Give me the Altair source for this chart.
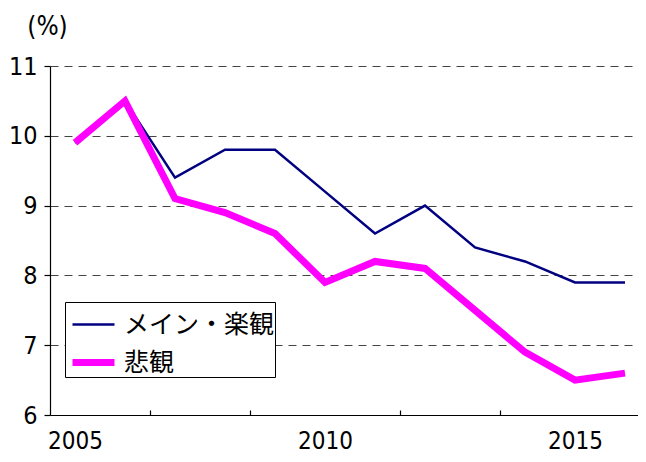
import altair as alt
import pandas as pd

years = list(range(2005, 2017))
main_vals = [9.9, 10.5, 9.4, 9.8, 9.8, 9.2, 8.6, 9.0, 8.4, 8.2, 7.9, 7.9]
pess_vals = [9.9, 10.5, 9.1, 8.9, 8.6, 7.9, 8.2, 8.1, 7.5, 6.9, 6.5, 6.6]
series_names = ["メイン・楽観", "悲観"]
series_colors = ["#000080", "#FF00FF"]
series_widths = [2.5, 7]
label_years = [2005, 2010, 2015]
boundary_ticks = [y + 0.5 for y in range(2005, 2016)]

rows = []
for y, v in zip(years, main_vals):
    rows.append({"year": y, "value": v, "series": series_names[0]})
for y, v in zip(years, pess_vals):
    rows.append({"year": y, "value": v, "series": series_names[1]})
df = pd.DataFrame(rows)

num_font = "Liberation Sans Narrow, DejaVu Sans Condensed, Liberation Sans, sans-serif"
jp_font = "Noto Sans CJK JP"

xscale = alt.Scale(domain=[2004.5, 2016.26], nice=False, zero=False)
yscale = alt.Scale(domain=[6, 11], nice=False, zero=False)

lines = alt.Chart(df).mark_line(strokeCap="butt", strokeJoin="miter").encode(
    x=alt.X("year:Q", scale=xscale,
            axis=alt.Axis(values=label_years + boundary_ticks, title=None,
                          tickSize=alt.ExprRef("-5"), tickWidth=1.2,
                          tickColor={"condition": {"test": "datum.value % 1 === 0", "value": "transparent"},
                                     "value": "black"},
                          labelExpr="datum.value % 1 === 0 ? datum.label : ''",
                          labelPadding=38, labelBaseline="alphabetic",
                          labelFont=num_font, labelFontSize=24, labelColor="black",
                          domainColor="black", domainWidth=1.2, grid=False,
                          format="d", labelFlush=False, labelOverlap=False)),
    y=alt.Y("value:Q", scale=yscale,
            axis=alt.Axis(values=[6, 7, 8, 9, 10, 11], format="d", title="(%)", titleAngle=0,
                          titleX=-3, titleY=-32, titleAlign="center", titleBaseline="alphabetic",
                          titleFont=num_font, titleFontSize=26, titleFontWeight="normal",
                          titleColor="black",
                          labelFont=num_font, labelFontSize=25, labelColor="black",
                          labelPadding=7, tickSize=6, tickColor="black", tickWidth=1.2,
                          domainColor="black", domainWidth=1.2,
                          grid=True, gridDash=[8, 6], gridColor="#444", gridWidth=1.2)),
    color=alt.Color("series:N", scale=alt.Scale(domain=series_names, range=series_colors),
                    legend=alt.Legend(title=None)),
    strokeWidth=alt.StrokeWidth("series:N", scale=alt.Scale(domain=series_names, range=series_widths),
                                legend=alt.Legend(title=None)),
    detail="series:N",
)

chart = lines.properties(
    width=588, height=349,
    autosize=alt.AutoSizeParams(type="none"),
    padding={"left": 42, "top": 58, "right": 0, "bottom": 39},
).configure_view(stroke=None).configure_legend(
    orient="none", legendX=15, legendY=236,
    strokeColor="black", fillColor="white", padding=0,
    labelFont=jp_font, labelFontSize=25, labelColor="black", labelLimit=0,
    symbolType="stroke", symbolSize=1764, symbolOffset=4, labelOffset=6,
    rowPadding=alt.ExprRef("-6"),
    cornerRadius=0,
)

chart.save("out.html", embed_options={"renderer": "svg", "actions": False})
